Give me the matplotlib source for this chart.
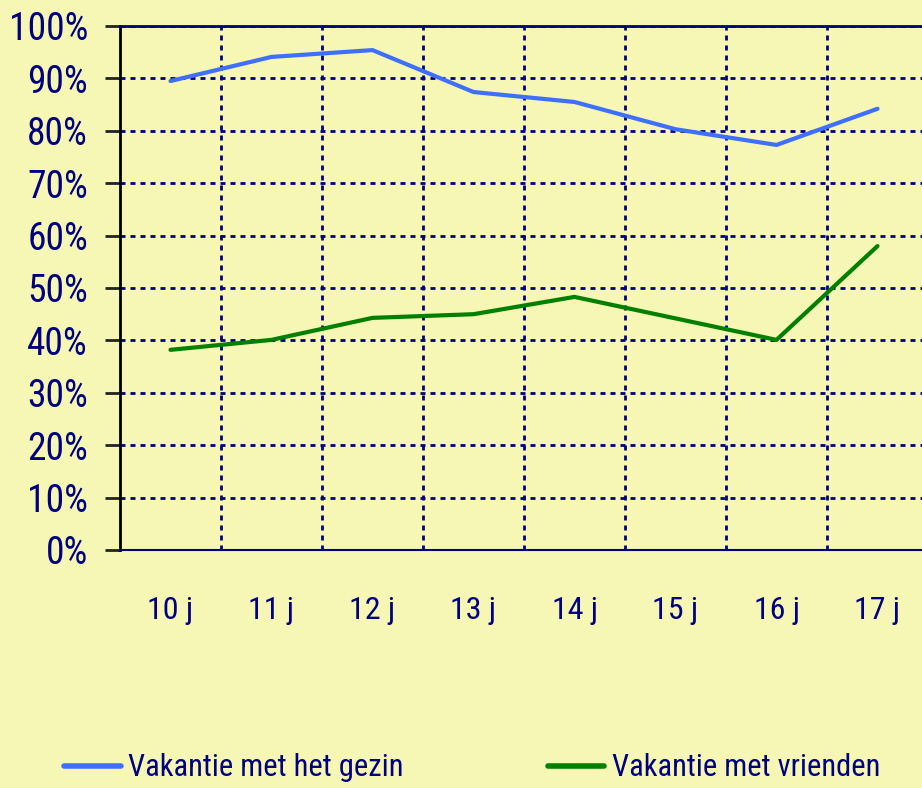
import matplotlib
matplotlib.use("Agg")
import matplotlib.pyplot as plt
from matplotlib.ticker import FixedLocator, NullFormatter
from matplotlib.lines import Line2D

categories = ["10 j", "11 j", "12 j", "13 j", "14 j", "15 j", "16 j", "17 j"]
gezin = [89.5, 94.1, 95.4, 87.4, 85.5, 80.3, 77.3, 84.2]
vrienden = [38.2, 40.1, 44.3, 45.0, 48.3, 44.2, 40.1, 58.0]
y_ticks = [0, 10, 20, 30, 40, 50, 60, 70, 80, 90, 100]
y_labels = [f"{v}%" for v in y_ticks]
series_names = ["Vakantie met het gezin", "Vakantie met vrienden"]

BG = "#F6F7B4"
NAVY = "#000080"
BLUE = "#3F6FFF"
GREEN = "#008000"

plt.rcParams['font.family'] = ['Roboto Condensed', 'DejaVu Sans']
plt.rcParams['font.stretch'] = 'condensed'

W, H = 922, 788
fig = plt.figure(figsize=(W / 100, H / 100), dpi=100, facecolor=BG)
left, right, top, bottom = 120, 928, 26, 550
ax = fig.add_axes([left / W, 1 - bottom / H, (right - left) / W, (bottom - top) / H])
ax.set_facecolor(BG)

x = list(range(len(categories)))
ax.plot(x, gezin, color=BLUE, lw=3, solid_capstyle='round', zorder=3)
ax.plot(x, vrienden, color=GREEN, lw=3, solid_capstyle='round', zorder=3)

ax.set_xlim(-0.5, len(categories) - 0.5)
ax.set_ylim(0, 100)
ax.set_yticks(y_ticks)
ax.set_yticklabels(y_labels)
ax.set_xticks(x)
ax.set_xticklabels(categories)
ax.xaxis.set_minor_locator(FixedLocator([i + 0.5 for i in range(len(categories) - 1)]))
ax.xaxis.set_minor_formatter(NullFormatter())

grid_kw = dict(color=NAVY, lw=2, linestyle=(0, (1.8, 1.8)))
ax.grid(True, axis='y', which='major', **grid_kw)
ax.grid(True, axis='x', which='minor', **grid_kw)
ax.grid(False, axis='x', which='major')
ax.set_axisbelow(True)

ax.tick_params(axis='y', which='major', length=11, width=2, color='#222222',
               labelsize=27, labelcolor=NAVY, pad=12)
ax.tick_params(axis='x', which='both', length=0, labelsize=23, labelcolor=NAVY, pad=33)

ax.spines['left'].set_color('black')
ax.spines['left'].set_linewidth(2)
ax.spines['top'].set_color(NAVY)
ax.spines['top'].set_linewidth(2)
ax.spines['bottom'].set_color(NAVY)
ax.spines['bottom'].set_linewidth(1.5)
ax.spines['right'].set_visible(False)

handles = [Line2D([], [], color=BLUE, lw=4, solid_capstyle='round'),
           Line2D([], [], color=GREEN, lw=4, solid_capstyle='round')]
fig.legend(handles, series_names, loc='center left',
           bbox_to_anchor=(52 / W, 1 - 768 / H),
           ncol=2, frameon=False, fontsize=22, labelcolor=NAVY,
           handlelength=1.85, handletextpad=0.25, columnspacing=4.7,
           borderaxespad=0.0)

fig.savefig("out.png", dpi=100, facecolor=BG)
